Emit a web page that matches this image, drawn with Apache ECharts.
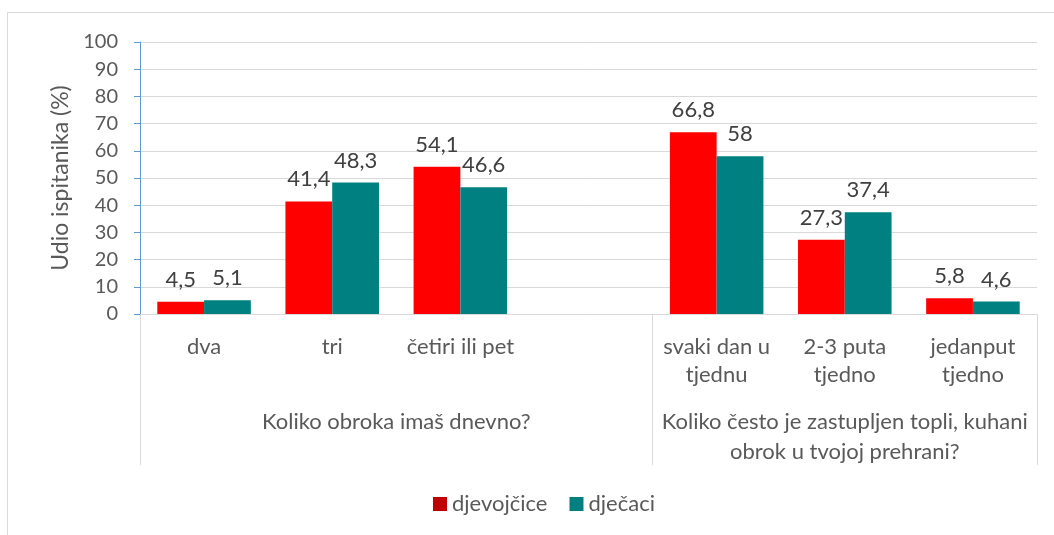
<!DOCTYPE html>
<html>
<head>
<meta charset="utf-8">
<script src="https://cdn.jsdelivr.net/npm/echarts@6/dist/echarts.min.js"></script>
<style>
  html, body { margin: 0; padding: 0; background: #fff; }
  #chart { width: 1054px; height: 535px; }
</style>
</head>
<body>
<div id="chart"></div>
<script>
var categories = ['dva', 'tri', 'četiri ili pet', '', 'svaki dan u\ntjednu', '2-3 puta\ntjedno', 'jedanput\ntjedno'];
var groups = ['Koliko obroka imaš dnevno?', 'Koliko često je zastupljen topli, kuhani\nobrok u tvojoj prehrani?'];
var groupSizes = [4, 3];
var girls = [4.5, 41.4, 54.1, null, 66.8, 27.3, 5.8];
var boys = [5.1, 48.3, 46.6, null, 58, 37.4, 4.6];
var yTicks = [0, 10, 20, 30, 40, 50, 60, 70, 80, 90, 100];

// group boundaries and centres in category units
var bounds = [0];
var centres = [];
groupSizes.forEach(function (n) {
    var start = bounds[bounds.length - 1];
    centres.push(start + n / 2);
    bounds.push(start + n);
});

var font = 'Lato, "Open Sans", sans-serif';
var textColor = '#595959';

var myChart = echarts.init(document.getElementById('chart'));

function comma(p) {
    return p.value == null ? '' : String(p.value).replace('.', ',');
}

option = {
    animation: false,
    textStyle: { fontFamily: font },
    graphic: [{
        type: 'rect',
        shape: { x: 7.5, y: 12.5, width: 1100, height: 600 },
        style: { fill: 'none', stroke: '#d9d9d9', lineWidth: 1 },
        silent: true
    }],
    grid: { left: 140, right: 17, top: 42, bottom: 221 },
    legend: {
        top: 488,
        left: 428,
        itemWidth: 14,
        itemHeight: 14,
        itemGap: 22,
        icon: 'rect',
        textStyle: { color: textColor, fontSize: 22, fontFamily: font },
        data: [
            { name: 'djevojčice', itemStyle: { color: '#C00000' } },
            { name: 'dječaci', itemStyle: { color: '#008080' } }
        ]
    },
    xAxis: [{
        type: 'category',
        data: categories,
        axisLine: { lineStyle: { color: '#d9d9d9', width: 1 } },
        axisTick: { show: false },
        axisLabel: {
            color: textColor,
            fontSize: 22,
            fontFamily: font,
            margin: 19,
            lineHeight: 28,
            interval: 0
        }
    }, {
        type: 'value',
        position: 'bottom',
        min: 0,
        max: bounds[bounds.length - 1],
        axisLine: { show: false },
        splitLine: { show: false },
        axisTick: {
            show: true,
            customValues: bounds,
            length: 151,
            lineStyle: { color: '#d9d9d9', width: 1 }
        },
        axisLabel: {
            customValues: centres,
            color: textColor,
            fontSize: 22,
            fontFamily: font,
            margin: 93,
            lineHeight: 30,
            formatter: function (v) {
                var i = centres.indexOf(v);
                return i >= 0 ? groups[i] : '';
            }
        }
    }],
    yAxis: {
        type: 'value',
        min: yTicks[0],
        max: yTicks[yTicks.length - 1],
        interval: 10,
        name: 'Udio ispitanika (%)',
        nameLocation: 'middle',
        nameGap: 67,
        nameTextStyle: { color: textColor, fontSize: 23, fontFamily: font },
        axisLine: { show: true, lineStyle: { color: '#5B9BD5', width: 1 } },
        axisTick: { show: true, length: 6, lineStyle: { color: '#5B9BD5' } },
        axisLabel: { color: textColor, fontSize: 20, fontFamily: font, margin: 22 },
        splitLine: { lineStyle: { color: '#d9d9d9', width: 1 } }
    },
    series: [{
        name: 'djevojčice',
        type: 'bar',
        data: girls,
        barGap: '0%',
        barCategoryGap: '27%',
        itemStyle: { color: '#FF0000' },
        label: {
            show: true,
            position: 'top',
            distance: 11,
            color: '#404040',
            fontSize: 22,
            fontFamily: font,
            formatter: comma
        }
    }, {
        name: 'dječaci',
        type: 'bar',
        data: boys,
        barGap: '0%',
        barCategoryGap: '27%',
        itemStyle: { color: '#008080' },
        label: {
            show: true,
            position: 'top',
            distance: 11,
            color: '#404040',
            fontSize: 22,
            fontFamily: font,
            formatter: comma
        }
    }]
};

myChart.setOption(option);
</script>
</body>
</html>
